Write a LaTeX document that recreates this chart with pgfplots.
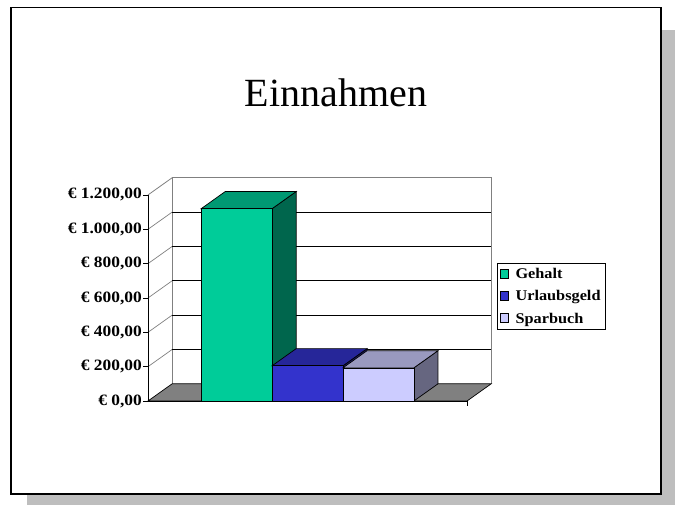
\documentclass[border=0pt]{standalone}
\usepackage{fontspec}
\setmainfont{Liberation Serif}
\newfontfamily\chartfont[FakeStretch=1.1]{Liberation Serif}
\usepackage{pgfplots}
\pgfplotsset{compat=1.18}
\definecolor{gF}{HTML}{00CC99}
\definecolor{gT}{HTML}{009973}
\definecolor{gS}{HTML}{00664D}
\definecolor{uF}{HTML}{3333CC}
\definecolor{uT}{HTML}{262699}
\definecolor{uS}{HTML}{1A1A66}
\definecolor{sF}{HTML}{CCCCFF}
\definecolor{sT}{HTML}{9999BF}
\definecolor{sS}{HTML}{666680}
\definecolor{floorgray}{HTML}{808080}
\definecolor{wallgray}{HTML}{808080}
\definecolor{shadowgray}{HTML}{BEBEBE}
\begin{document}
\begin{tikzpicture}[x=1pt,y=1pt]
\useasboundingbox (0,0) rectangle (675,505);
\fill[shadowgray] (27,0) rectangle (675,475);
\filldraw[fill=white, draw=black, line width=1.3pt] (11,11) rectangle (661,497.5);
\node[anchor=base, inner sep=0pt, font=\fontsize{40}{40}\selectfont] at (336,398.3) {Einnahmen};
\begin{axis}[
  at={(148pt,104pt)}, anchor=south west,
  x=70.9pt, y=0.1717pt,
  xmin=0, xmax=4.84, ymin=0, ymax=1300,
  clip=false,
  axis lines=left,
  axis line style={draw=none},
  tick align=outside,
  major tick length=5pt,
  tick style={black, line width=0.6pt},
  xtick={4.5}, xticklabels={},
  ytick={0,200,400,600,800,1000,1200},
  yticklabels={{€ 0,00},{€ 200,00},{€ 400,00},{€ 600,00},{€ 800,00},{€ 1.000,00},{€ 1.200,00}},
  yticklabel style={font=\chartfont\fontsize{15.8}{15.8}\selectfont\bfseries, inner sep=0pt, xshift=-1pt},
  legend style={at={(1.0174,0.618)}, anchor=north west, draw=black, line width=0.6pt,
    font=\chartfont\fontsize{14.8}{14.8}\selectfont\bfseries, inner xsep=3pt, inner ysep=3pt, row sep=6.5pt,
    cells={anchor=west}, /tikz/every odd column/.append style={column sep=4.5pt}},
  legend cell align=left,
  legend image code/.code={\draw[#1, draw=black, line width=0.6pt] (0pt,-4pt) rectangle (8pt,5pt);},
]
% back wall frame and left wall
\addplot[forget plot, wallgray, line width=0.8pt] coordinates {(0.34,100) (0.34,1300) (4.84,1300) (4.84,100)};
\addplot[forget plot, wallgray, line width=0.8pt] coordinates {(0,1200) (0.34,1300)};
% left wall diagonals
\addplot[forget plot, wallgray, line width=0.7pt] coordinates {(0,200) (0.34,300)};
\addplot[forget plot, wallgray, line width=0.7pt] coordinates {(0,400) (0.34,500)};
\addplot[forget plot, wallgray, line width=0.7pt] coordinates {(0,600) (0.34,700)};
\addplot[forget plot, wallgray, line width=0.7pt] coordinates {(0,800) (0.34,900)};
\addplot[forget plot, wallgray, line width=0.7pt] coordinates {(0,1000) (0.34,1100)};
% back gridlines
\addplot[forget plot, black, line width=0.8pt] coordinates {(0.34,300) (4.84,300)};
\addplot[forget plot, black, line width=0.8pt] coordinates {(0.34,500) (4.84,500)};
\addplot[forget plot, black, line width=0.8pt] coordinates {(0.34,700) (4.84,700)};
\addplot[forget plot, black, line width=0.8pt] coordinates {(0.34,900) (4.84,900)};
\addplot[forget plot, black, line width=0.8pt] coordinates {(0.34,1100) (4.84,1100)};
% floor
\addplot[forget plot, fill=floorgray, draw=black, line width=0.7pt] coordinates {(0,0) (4.5,0) (4.84,100) (0.34,100)} -- cycle;
% Gehalt (1120)
\addplot[forget plot, fill=gS, draw=black, line width=0.7pt] coordinates {(1.75,0) (2.09,100) (2.09,1220) (1.75,1120)} -- cycle;
\addplot[forget plot, fill=gT, draw=black, line width=0.7pt] coordinates {(0.75,1120) (1.75,1120) (2.09,1220) (1.09,1220)} -- cycle;
\addplot[forget plot, fill=gF, draw=black, line width=0.7pt] coordinates {(0.75,0) (1.75,0) (1.75,1120) (0.75,1120)} -- cycle;
% Urlaubsgeld (205)
\addplot[forget plot, fill=uS, draw=black, line width=0.7pt] coordinates {(2.75,0) (3.09,100) (3.09,305) (2.75,205)} -- cycle;
\addplot[forget plot, fill=uT, draw=black, line width=0.7pt] coordinates {(1.75,205) (2.75,205) (3.09,305) (2.09,305)} -- cycle;
\addplot[forget plot, fill=uF, draw=black, line width=0.7pt] coordinates {(1.75,0) (2.75,0) (2.75,205) (1.75,205)} -- cycle;
% Sparbuch (193)
\addplot[forget plot, fill=sS, draw=black, line width=0.7pt] coordinates {(3.75,0) (4.09,100) (4.09,293) (3.75,193)} -- cycle;
\addplot[forget plot, fill=sT, draw=black, line width=0.7pt] coordinates {(2.75,193) (3.75,193) (4.09,293) (3.09,293)} -- cycle;
\addplot[forget plot, fill=sF, draw=black, line width=0.7pt] coordinates {(2.75,0) (3.75,0) (3.75,193) (2.75,193)} -- cycle;
% front axes
\addplot[forget plot, black, line width=0.8pt] coordinates {(0,0) (4.5,0)};
\addplot[forget plot, black, line width=0.8pt] coordinates {(0,0) (0,1200)};
\addlegendimage{fill=gF}
\addlegendentry{Gehalt}
\addlegendimage{fill=uF}
\addlegendentry{Urlaubsgeld}
\addlegendimage{fill=sF}
\addlegendentry{Sparbuch}
\end{axis}
\end{tikzpicture}
\end{document}
